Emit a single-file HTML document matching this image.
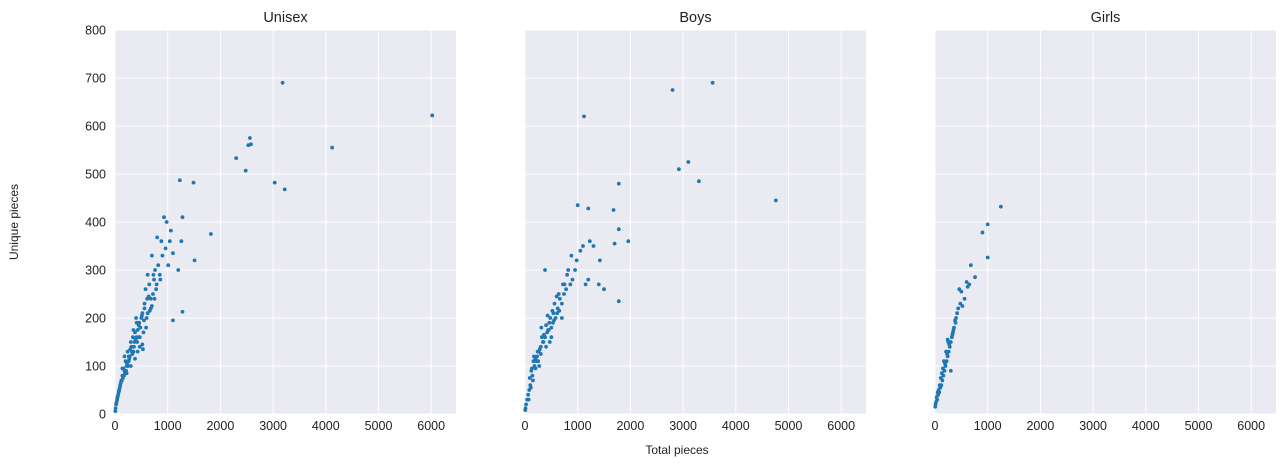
<!DOCTYPE html>
<html><head><meta charset="utf-8"><style>
body{margin:0;background:#fff;font-family:"Liberation Sans",sans-serif}
svg{display:block}
text{font-family:"Liberation Sans",sans-serif;fill:#222}
</style></head><body>
<svg id="c" width="1287" height="467"></svg>
<script>
const panelTitles=["Unisex","Boys","Girls"];
const xTicks=[0,1000,2000,3000,4000,5000,6000];
const yTicks=[0,100,200,300,400,500,600,700,800];
const unisexX=[6020,3180,4120,2560,2530,2580,2480,2300,3030,3220,1820,1490,1510,1230,1280,1260,1280,1100,930,980,1060,1040,1100,1200,900,850,800,780,760,720,700,680,650,620,600,580,560,540,520,500,480,460,440,420,400,380,360,340,320,300,280,260,240,220,200,180,160,140,120,100,90,80,70,60,50,40,30,20,10,5,860,820,750,700,640,590,550,510,470,430,390,350,310,270,230,190,150,110,75,45,25,960,1010,880,790,730,660,610,530,450,410,370,330,290,250,210,170,130,350,410,470,300,260,220,180,140,560,620,680,740,520,430,380];
const unisexY=[622,690,555,575,560,562,507,533,482,468,375,482,320,487,410,360,213,195,410,400,382,360,335,300,330,290,368,260,300,250,330,220,270,290,200,260,230,170,210,200,180,190,160,150,200,170,140,160,130,150,120,110,130,100,110,90,95,80,70,60,55,50,45,40,35,30,25,20,12,6,280,310,240,225,245,180,195,205,160,175,155,130,140,115,105,85,75,65,48,35,22,345,310,360,270,290,215,240,135,185,160,150,125,135,100,90,80,70,175,190,140,100,120,85,120,95,220,210,240,280,145,130,115];
const boysX=[3560,2800,1120,3100,2920,3300,4760,1780,1000,1200,1680,1780,1960,1230,1700,1420,1780,1200,1400,380,1100,1050,980,950,900,860,820,780,740,700,660,620,580,540,500,460,420,380,340,300,260,220,180,140,100,80,60,40,20,10,5,880,800,720,640,560,480,400,320,240,160,120,600,520,440,360,280,200,1300,1150,1500,250,300,350,400,450,500,550,650,700,750,200,230,270,150,110,70,90,130,170,310,430,470,530,610];
const boysY=[690,675,620,525,510,485,445,480,435,428,425,385,360,360,355,320,235,280,270,300,350,340,320,300,280,270,300,260,250,230,240,220,200,210,180,190,170,160,150,140,130,110,100,80,60,50,40,30,20,12,8,330,290,270,250,230,200,185,160,130,110,90,245,215,175,165,135,115,350,270,260,110,125,150,140,175,160,195,215,200,270,95,120,100,70,55,30,75,95,120,180,205,150,190,210];
const girlsX=[1250,1000,900,1000,680,760,600,650,560,480,520,440,400,380,360,340,320,300,280,260,240,220,200,180,160,140,120,100,80,60,40,20,10,5,460,420,300,250,350,230,190,130,90,50,30,110,150,210,270,330,390,70,170,240,500,620];
const girlsY=[432,395,378,326,310,285,275,270,240,230,225,220,200,195,180,170,160,150,140,130,120,110,100,90,80,70,60,55,45,40,30,25,20,15,260,210,90,150,175,125,105,85,60,45,35,75,95,130,145,165,190,50,110,155,255,265];
const seriesX=[unisexX,boysX,girlsX], seriesY=[unisexY,boysY,girlsY];
const NS="http://www.w3.org/2000/svg", svgEl=document.getElementById('c');
const panelLeft=[115,525,935], pw=341, plotTop=30, plotBottom=414;
const xMax=341/52.7*1000, yMax=800;
function el(t,a,p){const e=document.createElementNS(NS,t);for(const k in a)e.setAttribute(k,a[k]);(p||svgEl).appendChild(e);return e;}
for(let p=0;p<3;p++){
  const L=panelLeft[p];
  const sx=v=>L+v/xMax*pw, sy=v=>plotBottom-v/yMax*(plotBottom-plotTop);
  const g=el('g',{});
  
  
  const bg=el('rect',{x:L,y:plotTop,width:pw,height:plotBottom-plotTop,fill:'#eaeaf2'},g);
  
  
  xTicks.forEach(t=>{const x=sx(t);
    const ln=el('line',{x1:x,x2:x,y1:plotTop,y2:plotBottom,stroke:'#fff','stroke-width':1},g);
    
    
    const tx=el('text',{x:x,y:plotBottom+16,'text-anchor':'middle','font-size':12.5},g);tx.textContent=t;
    
    });
  yTicks.forEach(t=>{const y=sy(t);
    const ln=el('line',{x1:L,x2:L+pw,y1:y,y2:y,stroke:'#fff','stroke-width':1},g);
    
    
    if(p===0){const tx=el('text',{x:L-9,y:y+4.5,'text-anchor':'end','font-size':12.5},g);tx.textContent=t;
      
      }});
  const ti=el('text',{x:L+pw/2,y:22,'text-anchor':'middle','font-size':14.5},g);ti.textContent=panelTitles[p];
  
  
  const X=seriesX[p],Y=seriesY[p];
  for(let i=0;i<X.length;i++){
    const c=el('circle',{cx:sx(X[i]),cy:sy(Y[i]),r:1.9,fill:'#1f77b4'},g);
    
    
  }
}
const xl=el('text',{x:677,y:454,'text-anchor':'middle','font-size':12});xl.textContent='Total pieces';


const yl=el('text',{x:0,y:0,'text-anchor':'middle','font-size':12,transform:'translate(18,222) rotate(-90)'});yl.textContent='Unique pieces';


</script>
</body></html>
